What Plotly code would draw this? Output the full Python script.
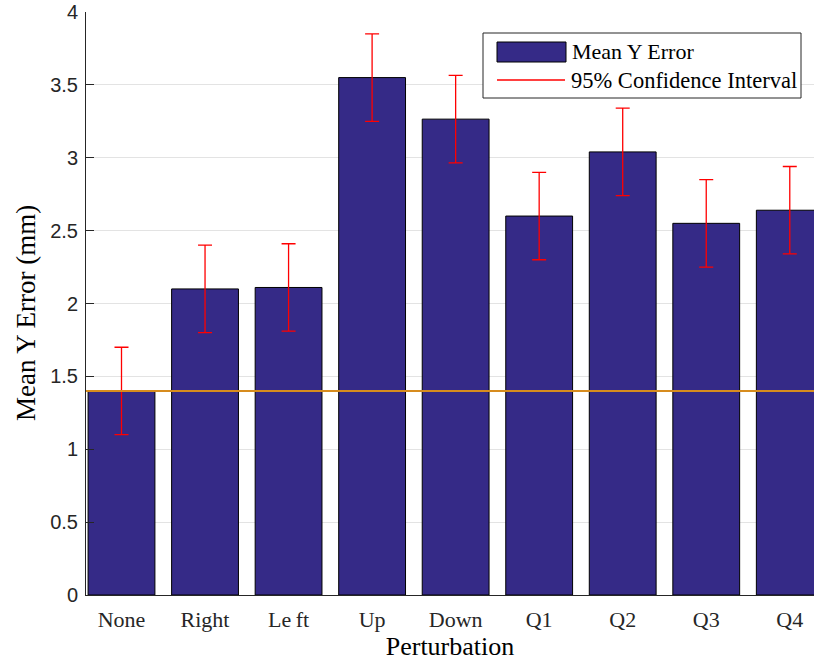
import plotly.graph_objects as go

# Perturbation conditions and the measured mean Y error (mm)
categories = ["None", "Right", "Le\u2009ft", "Up", "Down", "Q1", "Q2", "Q3", "Q4"]
mean_y_error = [1.40, 2.10, 2.11, 3.55, 3.265, 2.60, 3.04, 2.55, 2.64]
# Half-width of the 95% confidence interval for each condition
ci_half = [0.30, 0.30, 0.30, 0.30, 0.30, 0.30, 0.30, 0.30, 0.30]
# Reference level (the unperturbed mean)
baseline = 1.40

y_ticks = [0, 0.5, 1, 1.5, 2, 2.5, 3, 3.5, 4]
y_tick_text = ["0", "0.5", "1", "1.5", "2", "2.5", "3", "3.5", "4"]

BAR_COLOR = "rgb(53,42,135)"
CI_COLOR = "rgb(255,0,0)"
BASE_COLOR = "rgb(215,140,30)"
AXIS_COLOR = "#262626"
SERIF = "Liberation Serif, Times New Roman, serif"
SANS = "Liberation Sans, Arial, Helvetica, sans-serif"

W, H = 814, 664
ML, MR, MT, MB = 86, 0, 12, 69
PW, PH = W - ML - MR, H - MT - MB


def px(x):
    return (x - ML) / PW


def py(y):
    return (H - MB - y) / PH


fig = go.Figure()
fig.add_trace(go.Bar(
    x=list(range(len(categories))),
    y=mean_y_error,
    width=0.8,
    marker=dict(color=BAR_COLOR, line=dict(color="black", width=1)),
    error_y=dict(type="data", array=ci_half, visible=True,
                 color=CI_COLOR, thickness=1.3, width=7),
    showlegend=False,
))

shapes = [
    # horizontal reference line at the baseline mean
    dict(type="line", xref="paper", yref="y", x0=0, x1=1, y0=baseline, y1=baseline,
         line=dict(color=BASE_COLOR, width=2), layer="above"),
    # legend box
    dict(type="rect", xref="paper", yref="paper", x0=px(483), x1=px(801), y0=py(98), y1=py(33),
         line=dict(color="#262626", width=1), fillcolor="white", layer="above"),
    dict(type="rect", xref="paper", yref="paper", x0=px(497), x1=px(566), y0=py(62), y1=py(42),
         line=dict(color="black", width=1), fillcolor=BAR_COLOR, layer="above"),
    dict(type="line", xref="paper", yref="paper", x0=px(497), x1=px(565), y0=py(80), y1=py(80),
         line=dict(color=CI_COLOR, width=1.3), layer="above"),
]

annotations = [
    dict(text="Mean Y Error", xref="paper", yref="paper", x=px(570), y=py(52),
         xanchor="left", yanchor="middle", showarrow=False,
         font=dict(family=SERIF, size=22, color="black")),
    dict(text="95% Confidence Interval", xref="paper", yref="paper", x=px(569), y=py(81),
         xanchor="left", yanchor="middle", showarrow=False,
         font=dict(family=SERIF, size=22.5, color="black")),
    # y-axis title
    dict(text="Mean Y Error (mm)", xref="paper", yref="paper", x=px(26), y=py(313),
         xanchor="center", yanchor="middle", textangle=-90, showarrow=False,
         font=dict(family=SERIF, size=27, color="black")),
]

fig.update_layout(
    width=W, height=H,
    margin=dict(l=ML, r=MR, t=MT, b=MB),
    paper_bgcolor="white", plot_bgcolor="white",
    shapes=shapes, annotations=annotations,
    bargap=0.2,
)

fig.update_xaxes(
    range=[-0.425, 8.29],
    tickvals=list(range(len(categories))),
    ticktext=categories,
    tickfont=dict(family=SERIF, size=22, color=AXIS_COLOR),
    showgrid=False, zeroline=False,
    showline=True, linecolor=AXIS_COLOR, linewidth=1,
    ticks="", ticklabelstandoff=5,
    title=dict(text="Perturbation", font=dict(family=SERIF, size=26, color="black"), standoff=3),
)

fig.update_yaxes(
    range=[0, 4],
    tickvals=y_ticks, ticktext=y_tick_text,
    tickfont=dict(family=SANS, size=20, color=AXIS_COLOR),
    showgrid=True, gridcolor="#E3E3E3", gridwidth=1,
    zeroline=False,
    showline=True, linecolor=AXIS_COLOR, linewidth=1,
    ticks="inside", ticklen=8, tickcolor=AXIS_COLOR,
    ticklabelstandoff=3,
)

fig.write_html("out.html")
